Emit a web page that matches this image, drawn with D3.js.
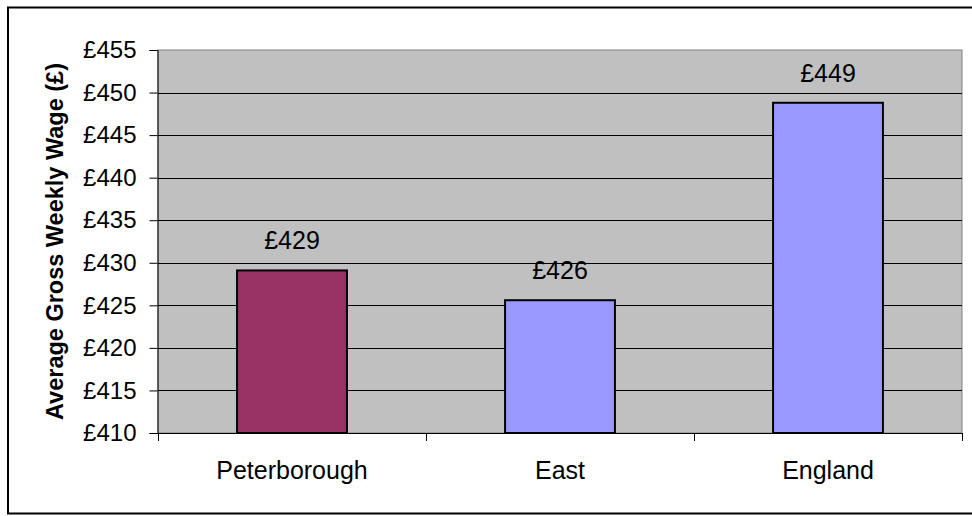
<!DOCTYPE html>
<html>
<head>
<meta charset="utf-8">
<script src="https://cdn.jsdelivr.net/npm/d3@7"></script>
<style>
  html, body { margin: 0; padding: 0; background: #fff; }
  svg { display: block; }
  text { font-family: "Liberation Sans", Arial, sans-serif; fill: #000; }
</style>
</head>
<body>
<svg id="chart" width="972" height="516"></svg>
<script>
// Average gross weekly wage by area
const categories = ["Peterborough", "East", "England"];
const wages = [429.1, 425.6, 448.8];
const barColors = ["#993366", "#9999ff", "#9999ff"];
const yTicks = [410, 415, 420, 425, 430, 435, 440, 445, 450, 455];
const yTitle = "Average Gross Weekly Wage (£)";

const svg = d3.select("#chart");
const plot = { left: 158, right: 962, top: 50, bottom: 433 };

// outer chart frame (its right edge runs off the canvas)
svg.append("rect")
  .attr("x", 8).attr("y", 7.5)
  .attr("width", 980).attr("height", 506)
  .attr("fill", "#fff").attr("stroke", "#000").attr("stroke-width", 2);

const x = d3.scaleBand()
  .domain(categories)
  .range([plot.left, plot.right])
  .paddingInner(0.59)
  .paddingOuter(0.295);

const y = d3.scaleLinear()
  .domain([410, 455])
  .range([plot.bottom, plot.top]);

// plot area background
svg.append("rect")
  .attr("x", plot.left).attr("y", plot.top)
  .attr("width", plot.right - plot.left).attr("height", plot.bottom - plot.top)
  .attr("fill", "#c0c0c0").attr("stroke", "#808080").attr("stroke-width", 1);

// horizontal gridlines
svg.append("g")
  .selectAll("line")
  .data(yTicks.filter(t => t > 410 && t < 455))
  .join("line")
  .attr("x1", plot.left).attr("x2", plot.right)
  .attr("y1", d => Math.round(y(d)) + 0.5).attr("y2", d => Math.round(y(d)) + 0.5)
  .attr("stroke", "#000").attr("stroke-width", 1);

// bars
svg.append("g")
  .selectAll("rect")
  .data(categories)
  .join("rect")
  .attr("x", d => x(d))
  .attr("width", x.bandwidth())
  .attr("y", (d, i) => y(wages[i]))
  .attr("height", (d, i) => y(410) - y(wages[i]))
  .attr("fill", (d, i) => barColors[i])
  .attr("stroke", "#000").attr("stroke-width", 2);

// value labels above bars
const fmt = v => "£" + d3.format(".0f")(v);
svg.append("g")
  .selectAll("text")
  .data(categories)
  .join("text")
  .attr("x", d => x(d) + x.bandwidth() / 2)
  .attr("y", (d, i) => y(wages[i]) - 21)
  .attr("text-anchor", "middle")
  .style("font-size", "25px")
  .text((d, i) => fmt(wages[i]));

// y axis
const yAxis = d3.axisLeft(y)
  .tickValues(yTicks)
  .tickSize(8)
  .tickPadding(12)
  .tickFormat(d => "£" + d);
const gy = svg.append("g")
  .attr("transform", `translate(${plot.left - 0.5},0)`)
  .call(yAxis);
gy.attr("font-family", null).attr("font-size", null);
gy.select(".domain").attr("stroke", "#000");
gy.selectAll(".tick line").attr("stroke", "#000");
gy.selectAll(".tick text")
  .style("font-size", "24px")
  .attr("x", -21);

// x axis: ticks sit on band boundaries, labels centred in bands
const boundaries = [plot.left, ...categories.map(c => x(c) + x.bandwidth() / 2 + x.step() / 2)];
const gx = svg.append("g");
gx.append("line")
  .attr("x1", plot.left).attr("x2", plot.right)
  .attr("y1", plot.bottom + 0.5).attr("y2", plot.bottom + 0.5)
  .attr("stroke", "#000");
gx.selectAll("line.tick")
  .data(boundaries)
  .join("line")
  .attr("class", "tick")
  .attr("x1", d => Math.round(d) + 0.5).attr("x2", d => Math.round(d) + 0.5)
  .attr("y1", plot.bottom).attr("y2", plot.bottom + 8)
  .attr("stroke", "#000");
gx.selectAll("text")
  .data(categories)
  .join("text")
  .attr("x", d => x(d) + x.bandwidth() / 2)
  .attr("y", 479)
  .attr("text-anchor", "middle")
  .style("font-size", "25px")
  .text(d => d);

// y axis title
svg.append("text")
  .attr("transform", `translate(63,${(plot.top + plot.bottom) / 2}) rotate(-90)`)
  .attr("text-anchor", "middle")
  .style("font-size", "23.5px")
  .style("font-weight", "bold")
  .text(yTitle);
</script>
</body>
</html>
